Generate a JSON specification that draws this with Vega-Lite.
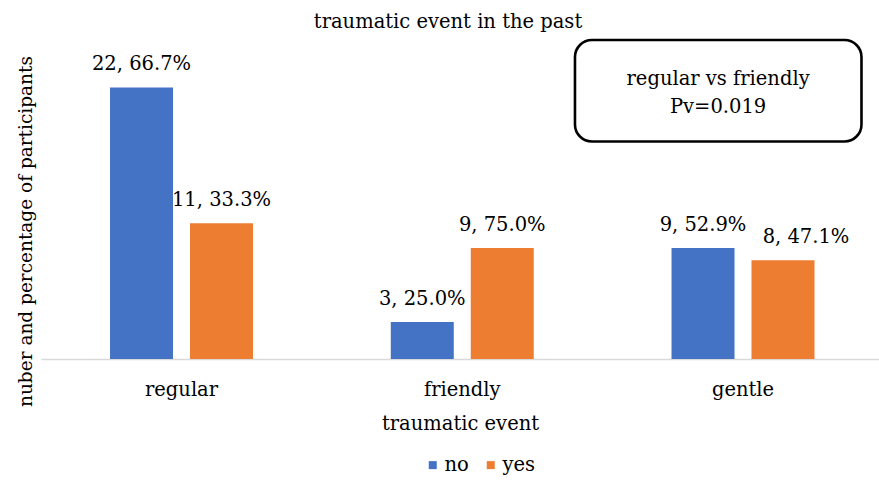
{
  "$schema": "https://vega.github.io/schema/vega-lite/v6.json",
  "width": 838,
  "height": 321,
  "autosize": {"type": "none"},
  "padding": {"left": 41, "top": 38, "right": 0, "bottom": 122},
  "background": "white",
  "config": {
    "font": "DejaVu Serif",
    "view": {"stroke": null},
    "text": {"font": "DejaVu Serif", "color": "#000000"}
  },
  "title": {
    "text": "traumatic event in the past",
    "font": "DejaVu Serif",
    "fontSize": 19.5,
    "fontWeight": "normal",
    "color": "#000000",
    "anchor": "middle",
    "dx": -12,
    "offset": 6
  },
  "layer": [
    {
      "data": {
        "values": [
          {"event": "regular", "answer": "no", "count": 22, "label": "22, 66.7%"},
          {"event": "regular", "answer": "yes", "count": 11, "label": "11, 33.3%"},
          {"event": "friendly", "answer": "no", "count": 3, "label": "3, 25.0%"},
          {"event": "friendly", "answer": "yes", "count": 9, "label": "9, 75.0%"},
          {"event": "gentle", "answer": "no", "count": 9, "label": "9, 52.9%"},
          {"event": "gentle", "answer": "yes", "count": 8, "label": "8, 47.1%"}
        ]
      },
      "encoding": {
        "x": {
          "field": "event",
          "type": "nominal",
          "sort": ["regular", "friendly", "gentle"],
          "scale": {"paddingInner": 0.4907, "paddingOuter": 0.2378, "align": 0.517},
          "axis": {
            "title": "traumatic event",
            "labelAngle": 0,
            "labelFont": "DejaVu Serif",
            "labelFontSize": 19.5,
            "labelColor": "#000000",
            "titleFont": "DejaVu Serif",
            "titleFontSize": 19.5,
            "titleFontWeight": "normal",
            "titleColor": "#000000",
            "ticks": false,
            "domainColor": "#d9d9d9",
            "domainWidth": 1.5,
            "labelPadding": 21,
            "titlePadding": 16
          }
        },
        "xOffset": {
          "field": "answer",
          "type": "nominal",
          "sort": ["no", "yes"],
          "scale": {"paddingInner": 0.2125, "paddingOuter": 0}
        },
        "y": {
          "field": "count",
          "type": "quantitative",
          "scale": {"domain": [0, 26], "nice": false},
          "axis": {
            "title": "nuber and percentage of participants",
            "labels": false,
            "ticks": false,
            "domain": false,
            "grid": false,
            "titleFont": "DejaVu Serif",
            "titleFontSize": 18.5,
            "titleFontWeight": "normal",
            "titleColor": "#000000",
            "titlePadding": 6,
            "titleY": 193
          }
        }
      },
      "layer": [
        {
          "mark": {"type": "bar"},
          "encoding": {
            "color": {
              "field": "answer",
              "type": "nominal",
              "scale": {"domain": ["no", "yes"], "range": ["#4472C4", "#ED7D31"]},
              "legend": {
                "title": null,
                "orient": "none",
                "legendX": 382,
                "legendY": 417,
                "direction": "horizontal",
                "symbolType": "square",
                "symbolSize": 64,
                "symbolStrokeWidth": 0,
                "labelFont": "DejaVu Serif",
                "labelFontSize": 19.5,
                "labelColor": "#000000",
                "labelOffset": 2,
                "columnPadding": 12,
                "padding": 0
              }
            }
          }
        },
        {
          "transform": [{"filter": "!(datum.event === 'gentle' && datum.answer === 'yes')"}],
          "mark": {"type": "text", "baseline": "alphabetic", "dy": -17, "fontSize": 19.5, "font": "DejaVu Serif", "color": "#000000"},
          "encoding": {"text": {"field": "label"}}
        },
        {
          "transform": [{"filter": "datum.event === 'gentle' && datum.answer === 'yes'"}],
          "mark": {"type": "text", "baseline": "alphabetic", "dy": -17, "dx": 23, "fontSize": 19.5, "font": "DejaVu Serif", "color": "#000000"},
          "encoding": {"text": {"field": "label"}}
        }
      ]
    },
    {
      "data": {"values": [{"bx": 0.6372, "bx2": 0.9791, "by": 25.84, "by2": 17.62}]},
      "mark": {"type": "rect", "cornerRadius": 17, "fill": "white", "stroke": "#000000", "strokeWidth": 2.6},
      "encoding": {
        "x": {"field": "bx", "type": "quantitative", "scale": {"domain": [0, 1], "nice": false, "zero": false}, "axis": null},
        "x2": {"field": "bx2"},
        "y": {"field": "by", "type": "quantitative", "scale": {"domain": [0, 26], "nice": false}, "axis": null},
        "y2": {"field": "by2"}
      }
    },
    {
      "data": {
        "values": [
          {"tx": 0.808, "ty": 22.19, "t": "regular vs friendly"},
          {"tx": 0.808, "ty": 19.93, "t": "Pv=0.019"}
        ]
      },
      "mark": {"type": "text", "baseline": "alphabetic", "align": "center", "fontSize": 19.5, "font": "DejaVu Serif", "color": "#000000"},
      "encoding": {
        "x": {"field": "tx", "type": "quantitative", "scale": {"domain": [0, 1], "nice": false, "zero": false}, "axis": null},
        "y": {"field": "ty", "type": "quantitative", "scale": {"domain": [0, 26], "nice": false}, "axis": null},
        "text": {"field": "t"}
      }
    }
  ],
  "resolve": {"scale": {"x": "independent", "y": "independent"}}
}
